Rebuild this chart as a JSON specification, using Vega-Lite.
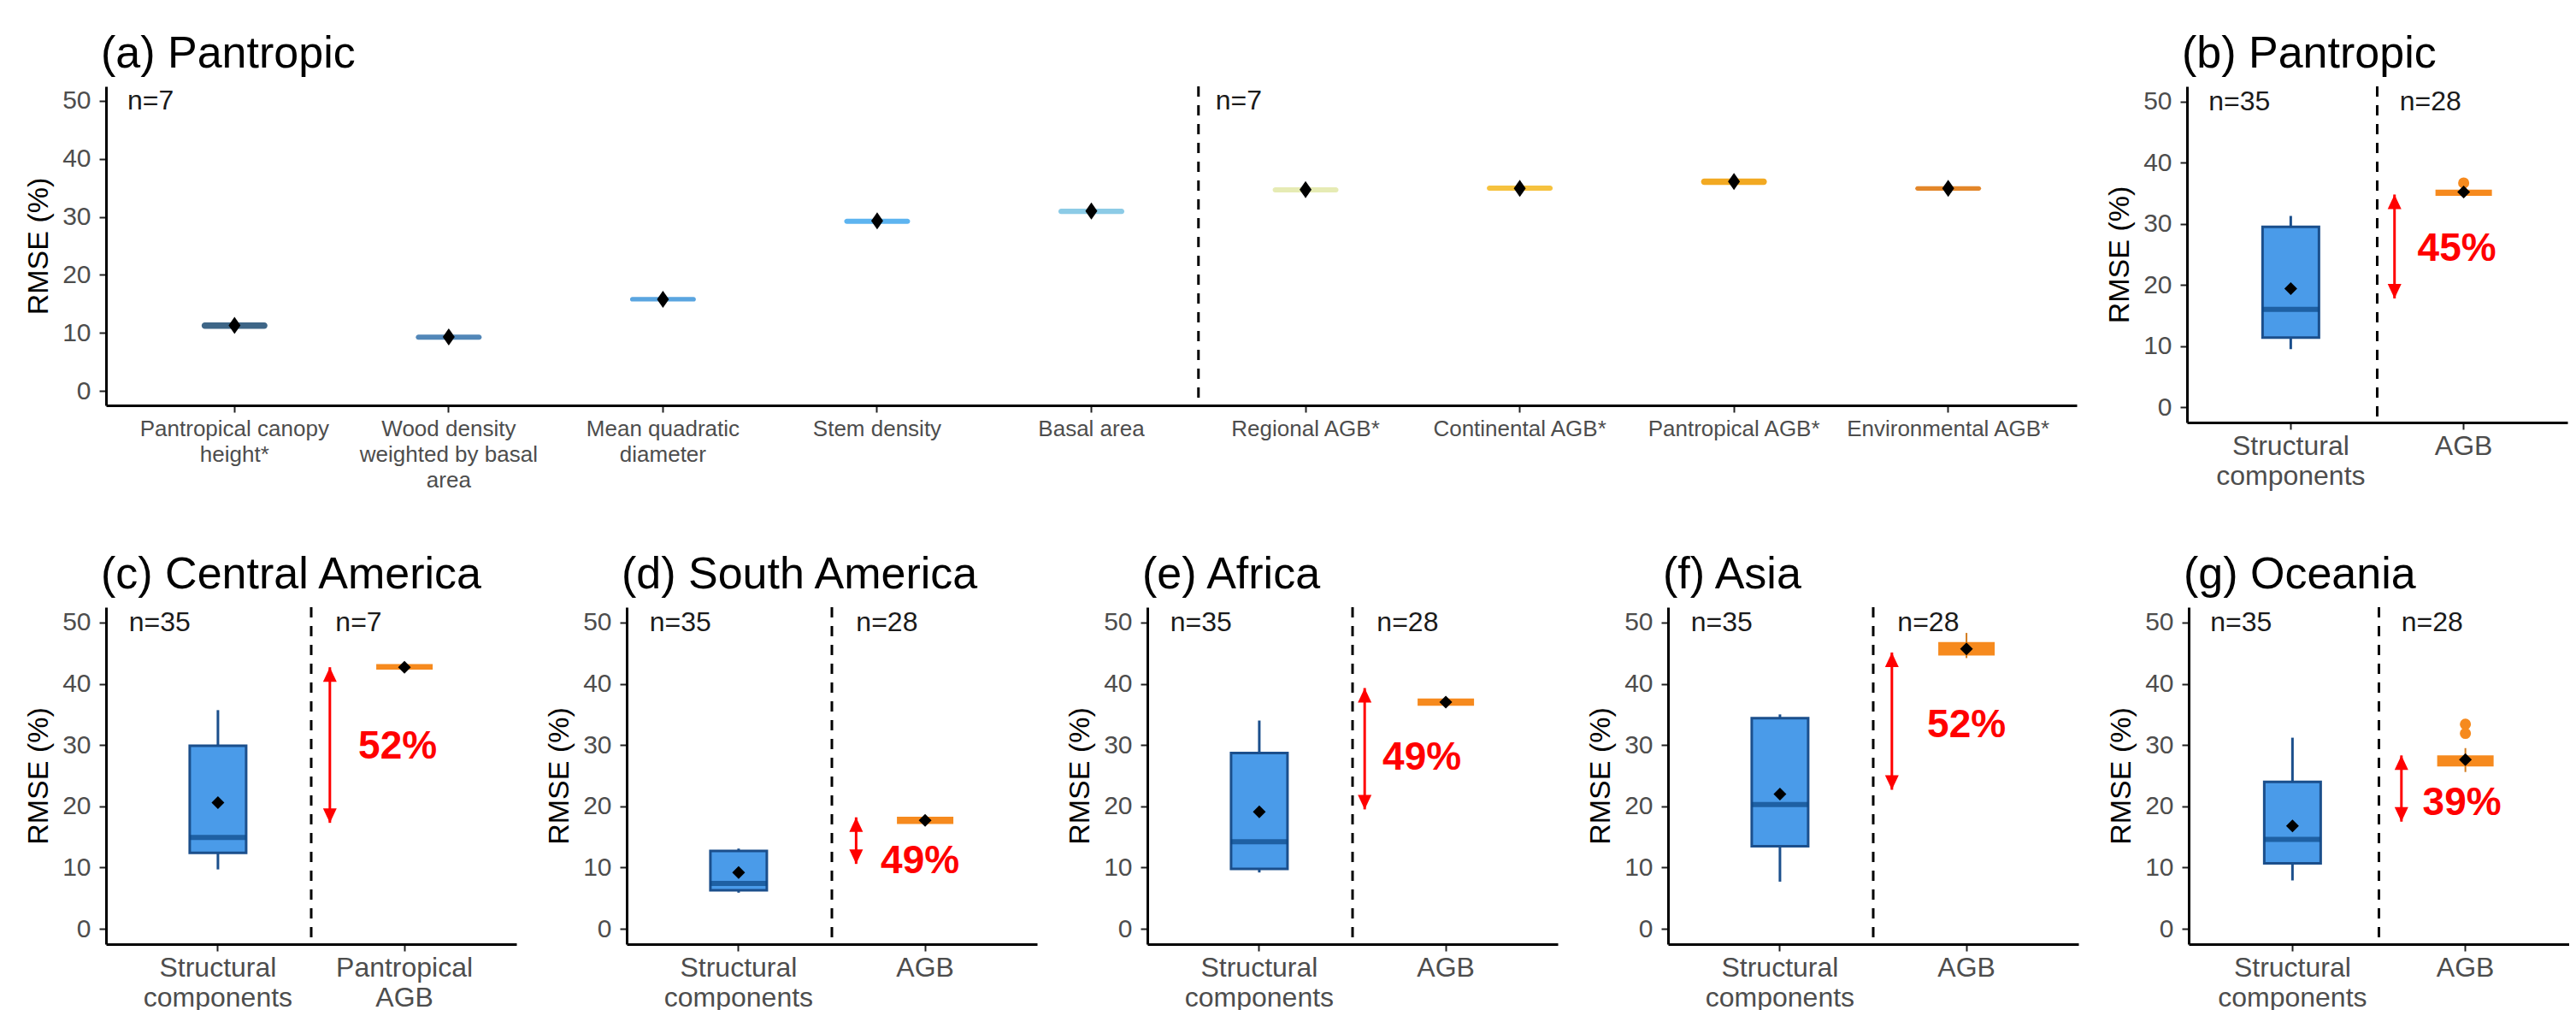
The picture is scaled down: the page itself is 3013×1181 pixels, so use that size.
{
"$schema": "https://vega.github.io/schema/vega-lite/v6.json",
"background": "white",
"padding": {"left": 28, "top": 36, "right": 0, "bottom": 0},
"spacing": 71,
"config": {
  "view": {"stroke": null},
  "axis": {"grid": false, "domainColor": "#000000", "domainWidth": 3, "tickColor": "#222222", "tickWidth": 2, "tickSize": 8, "labelFont": "Liberation Sans", "labelColor": "#4d4d4d", "labelFontSize": 30, "titleFont": "Liberation Sans", "titleFontSize": 34, "titleFontWeight": "normal", "titleColor": "#000000"},
  "axisY": {"labelPadding": 10, "titlePadding": 10},
  "axisX": {"labelAngle": 0, "labelLimit": 0, "labelPadding": 4, "labelFontSize": 32, "labelLineHeight": 35, "labelOverlap": false},
  "title": {"font": "Liberation Sans", "fontSize": 52, "fontWeight": "normal", "anchor": "start", "frame": "group", "baseline": "alphabetic", "offset": 10, "dx": -6, "color": "#000000"},
  "text": {"font": "Liberation Sans"}
},
"datasets": {
  "boxes": [
    {"panel":"a","cat":"Pantropical canopy\nheight*","group":"structural","lower":10.7,"q1":10.7,"median":11.3,"q3":11.8,"upper":11.8,"mean":11.3},
    {"panel":"a","cat":"Wood density\nweighted by basal\narea","group":"structural","lower":8.8,"q1":8.8,"median":9.3,"q3":9.7,"upper":9.7,"mean":9.3},
    {"panel":"a","cat":"Mean quadratic\ndiameter","group":"structural","lower":15.4,"q1":15.4,"median":15.8,"q3":16.2,"upper":16.2,"mean":15.8},
    {"panel":"a","cat":"Stem density","group":"structural","lower":28.8,"q1":28.8,"median":29.3,"q3":29.7,"upper":29.7,"mean":29.3},
    {"panel":"a","cat":"Basal area","group":"structural","lower":30.5,"q1":30.5,"median":31.0,"q3":31.4,"upper":31.4,"mean":31.0},
    {"panel":"a","cat":"Regional AGB*","group":"agb","lower":34.2,"q1":34.2,"median":34.7,"q3":35.1,"upper":35.1,"mean":34.7},
    {"panel":"a","cat":"Continental AGB*","group":"agb","lower":34.5,"q1":34.5,"median":34.9,"q3":35.4,"upper":35.4,"mean":34.9},
    {"panel":"a","cat":"Pantropical AGB*","group":"agb","lower":35.5,"q1":35.5,"median":36.1,"q3":36.6,"upper":36.6,"mean":36.1},
    {"panel":"a","cat":"Environmental AGB*","group":"agb","lower":34.5,"q1":34.5,"median":34.9,"q3":35.3,"upper":35.3,"mean":34.9},
    {"panel":"b","cat":"Structural\ncomponents","group":"structural","lower":9.5,"q1":11.4,"median":16.0,"q3":29.5,"upper":31.3,"mean":19.4},
    {"panel":"b","cat":"AGB","group":"agb","lower":34.5,"q1":34.6,"median":35.1,"q3":35.6,"upper":35.7,"mean":35.2},
    {"panel":"c","cat":"Structural\ncomponents","group":"structural","lower":9.7,"q1":12.4,"median":14.9,"q3":29.9,"upper":35.7,"mean":20.6},
    {"panel":"c","cat":"Pantropical\nAGB","group":"agb","lower":42.2,"q1":42.3,"median":42.7,"q3":43.2,"upper":43.3,"mean":42.7},
    {"panel":"d","cat":"Structural\ncomponents","group":"structural","lower":5.9,"q1":6.3,"median":7.4,"q3":12.7,"upper":13.1,"mean":9.2},
    {"panel":"d","cat":"AGB","group":"agb","lower":17.1,"q1":17.1,"median":17.7,"q3":18.3,"upper":18.3,"mean":17.7},
    {"panel":"e","cat":"Structural\ncomponents","group":"structural","lower":9.2,"q1":9.8,"median":14.2,"q3":28.7,"upper":34.0,"mean":19.1},
    {"panel":"e","cat":"AGB","group":"agb","lower":36.4,"q1":36.4,"median":37.0,"q3":37.6,"upper":37.7,"mean":37.0},
    {"panel":"f","cat":"Structural\ncomponents","group":"structural","lower":7.7,"q1":13.5,"median":20.3,"q3":34.4,"upper":35.0,"mean":22.0},
    {"panel":"f","cat":"AGB","group":"agb","lower":44.2,"q1":44.6,"median":45.6,"q3":46.8,"upper":48.3,"mean":45.7},
    {"panel":"g","cat":"Structural\ncomponents","group":"structural","lower":7.9,"q1":10.7,"median":14.6,"q3":24.0,"upper":31.2,"mean":16.8},
    {"panel":"g","cat":"AGB","group":"agb","lower":25.6,"q1":26.5,"median":27.6,"q3":28.3,"upper":29.5,"mean":27.6}
  ],
  "outliers": [
    {"panel":"b","cat":"AGB","value":36.7},
    {"panel":"g","cat":"AGB","value":33.4},
    {"panel":"g","cat":"AGB","value":31.9}
  ],
  "counts": [
    {"panel":"a","cat":"Pantropical canopy\nheight*","group":"structural","label":"n=7"},
    {"panel":"a","cat":"Regional AGB*","group":"agb","label":"n=7"},
    {"panel":"b","cat":"Structural\ncomponents","group":"structural","label":"n=35"},
    {"panel":"b","cat":"AGB","group":"agb","label":"n=28"},
    {"panel":"c","cat":"Structural\ncomponents","group":"structural","label":"n=35"},
    {"panel":"c","cat":"Pantropical\nAGB","group":"agb","label":"n=7"},
    {"panel":"d","cat":"Structural\ncomponents","group":"structural","label":"n=35"},
    {"panel":"d","cat":"AGB","group":"agb","label":"n=28"},
    {"panel":"e","cat":"Structural\ncomponents","group":"structural","label":"n=35"},
    {"panel":"e","cat":"AGB","group":"agb","label":"n=28"},
    {"panel":"f","cat":"Structural\ncomponents","group":"structural","label":"n=35"},
    {"panel":"f","cat":"AGB","group":"agb","label":"n=28"},
    {"panel":"g","cat":"Structural\ncomponents","group":"structural","label":"n=35"},
    {"panel":"g","cat":"AGB","group":"agb","label":"n=28"}
  ],
  "arrows": [
    {"panel":"b","cat":"AGB","from":17.8,"to":34.8},
    {"panel":"c","cat":"Pantropical\nAGB","from":17.3,"to":42.7},
    {"panel":"d","cat":"AGB","from":10.6,"to":18.2},
    {"panel":"e","cat":"AGB","from":19.5,"to":39.3},
    {"panel":"f","cat":"AGB","from":22.7,"to":45.1},
    {"panel":"g","cat":"AGB","from":17.5,"to":28.3}
  ],
  "labels": [
    {"panel":"b","cat":"AGB","y":25.9,"text":"45%"},
    {"panel":"c","cat":"Pantropical\nAGB","y":29.7,"text":"52%"},
    {"panel":"d","cat":"AGB","y":11.0,"text":"49%"},
    {"panel":"e","cat":"AGB","y":27.9,"text":"49%"},
    {"panel":"f","cat":"AGB","y":33.3,"text":"52%"},
    {"panel":"g","cat":"AGB","y":20.6,"text":"39%"}
  ]
},
"vconcat": [
  {"hconcat": [
    {"title": "(a) Pantropic", "width": 2305, "height": 373,
     "layer": [
      {"data":{"name":"boxes"},"transform":[{"filter":"datum.panel=='a' && datum.cat=='Basal area'"}],"mark":{"type":"rule","strokeDash":[12,10],"strokeWidth":3,"color":"#000000"},
       "encoding":{"x":{"field":"cat","type":"nominal","bandPosition":1,"scale":{"domain":["Pantropical canopy\nheight*","Wood density\nweighted by basal\narea","Mean quadratic\ndiameter","Stem density","Basal area","Regional AGB*","Continental AGB*","Pantropical AGB*","Environmental AGB*"],"paddingInner":0,"paddingOuter":0.1},"axis":{"title":null,"labelExpr":"split(datum.label, '\\n')","labelFontSize":26,"labelLineHeight":30,"labelPadding":6}}}},
      {"data":{"name":"boxes"},"transform":[{"filter":"datum.panel=='a'"}],"mark":{"type":"bar","width":77,"cornerRadius":4},
       "encoding":{"x":{"field":"cat","type":"nominal"},"y":{"field":"q1","type":"quantitative","scale":{"domain":[-2.5,52.5],"nice":false,"zero":false},"axis":{"title":"RMSE (%)","values":[0,10,20,30,40,50]}},"y2":{"field":"q3"},
        "color":{"field":"cat","type":"nominal","legend":null,"scale":{"domain":["Pantropical canopy\nheight*","Wood density\nweighted by basal\narea","Mean quadratic\ndiameter","Stem density","Basal area","Regional AGB*","Continental AGB*","Pantropical AGB*","Environmental AGB*"],"range":["#3e6687","#5287b8","#5aa5e0","#5db4f0","#8ccbe6","#e6ebb4","#f6c23e","#f2a922","#e3862a"]}}}},
      {"data":{"name":"boxes"},"transform":[{"filter":"datum.panel=='a'"}],"mark":{"type":"point","shape":"M0,-1L0.7,0L0,1L-0.7,0Z","filled":true,"size":400,"color":"#000000","opacity":1},
       "encoding":{"x":{"field":"cat","type":"nominal"},"y":{"field":"mean","type":"quantitative"}}},
      {"data":{"name":"counts"},"transform":[{"filter":"datum.panel=='a' && datum.group=='structural'"}],"mark":{"type":"text","align":"left","baseline":"middle","fontSize":32,"color":"#1a1a1a","dx":0},
       "encoding":{"x":{"field":"cat","type":"nominal","bandPosition":0},"y":{"datum":50,"type":"quantitative"},"text":{"field":"label"}}},
      {"data":{"name":"counts"},"transform":[{"filter":"datum.panel=='a' && datum.group=='agb'"}],"mark":{"type":"text","align":"left","baseline":"middle","fontSize":32,"color":"#1a1a1a","dx":0},
       "encoding":{"x":{"field":"cat","type":"nominal","bandPosition":0.08},"y":{"datum":50,"type":"quantitative"},"text":{"field":"label"}}}
     ]},
    {"title": "(b) Pantropic", "width": 445, "height": 393,
     "layer": [
      {"data":{"name":"boxes"},"transform":[{"filter":"datum.panel=='b' && datum.group=='structural'"}],"mark":{"type":"rule","strokeDash":[12,10],"strokeWidth":3,"color":"#000000"},"encoding":{"x":{"field":"cat","type":"nominal","bandPosition":1,"scale":{"domain":["Structural\ncomponents","AGB"],"paddingInner":0,"paddingOuter":0.1},"axis":{"title":null,"labelExpr":"split(datum.label, '\\n')"}}}},
      {"data":{"name":"boxes"},"transform":[{"filter":"datum.panel=='b' && datum.group=='structural'"}],"mark":{"type":"rule","color":"#1b4f8c","strokeWidth":3},"encoding":{"x":{"field":"cat","type":"nominal"},"y":{"field":"lower","type":"quantitative","scale":{"domain":[-2.5,52.5],"nice":false,"zero":false},"axis":{"title":"RMSE (%)","values":[0,10,20,30,40,50]}},"y2":{"field":"upper"}}},
      {"data":{"name":"boxes"},"transform":[{"filter":"datum.panel=='b' && datum.group=='structural'"}],"mark":{"type":"bar","width":66,"fill":"#4a9be9","stroke":"#1b4f8c","strokeWidth":3},"encoding":{"x":{"field":"cat","type":"nominal"},"y":{"field":"q1","type":"quantitative"},"y2":{"field":"q3"}}},
      {"data":{"name":"boxes"},"transform":[{"filter":"datum.panel=='b' && datum.group=='structural'"}],"mark":{"type":"tick","size":66,"thickness":6,"color":"#0c4785"},"encoding":{"x":{"field":"cat","type":"nominal"},"y":{"field":"median","type":"quantitative"}}},
      {"data":{"name":"boxes"},"transform":[{"filter":"datum.panel=='b' && datum.group=='agb'"}],"mark":{"type":"rule","color":"#d27a1c","strokeWidth":2},"encoding":{"x":{"field":"cat","type":"nominal"},"y":{"field":"lower","type":"quantitative"},"y2":{"field":"upper"}}},
      {"data":{"name":"boxes"},"transform":[{"filter":"datum.panel=='b' && datum.group=='agb'"}],"mark":{"type":"bar","width":66,"fill":"#f68a1e"},"encoding":{"x":{"field":"cat","type":"nominal"},"y":{"field":"q1","type":"quantitative"},"y2":{"field":"q3"}}},
      {"data":{"name":"outliers"},"transform":[{"filter":"datum.panel=='b'"}],"mark":{"type":"circle","size":170,"color":"#f68a1e","opacity":1},"encoding":{"x":{"field":"cat","type":"nominal"},"y":{"field":"value","type":"quantitative"}}},
      {"data":{"name":"boxes"},"transform":[{"filter":"datum.panel=='b'"}],"mark":{"type":"point","shape":"diamond","filled":true,"size":225,"color":"#000000","opacity":1},"encoding":{"x":{"field":"cat","type":"nominal"},"y":{"field":"mean","type":"quantitative"}}},
      {"data":{"name":"arrows"},"transform":[{"filter":"datum.panel=='b'"}],"mark":{"type":"rule","color":"#ff0000","strokeWidth":3},"encoding":{"x":{"field":"cat","type":"nominal","bandPosition":0.1},"y":{"field":"from","type":"quantitative"},"y2":{"field":"to"}}},
      {"data":{"name":"arrows"},"transform":[{"filter":"datum.panel=='b'"}],"mark":{"type":"point","shape":"M0,0L-0.8,1.7L0.8,1.7Z","filled":true,"size":400,"color":"#ff0000","opacity":1},"encoding":{"x":{"field":"cat","type":"nominal","bandPosition":0.1},"y":{"field":"to","type":"quantitative"}}},
      {"data":{"name":"arrows"},"transform":[{"filter":"datum.panel=='b'"}],"mark":{"type":"point","shape":"M0,0L-0.8,-1.7L0.8,-1.7Z","filled":true,"size":400,"color":"#ff0000","opacity":1},"encoding":{"x":{"field":"cat","type":"nominal","bandPosition":0.1},"y":{"field":"from","type":"quantitative"}}},
      {"data":{"name":"counts"},"transform":[{"filter":"datum.panel=='b' && datum.group=='structural'"}],"mark":{"type":"text","align":"left","baseline":"middle","fontSize":32,"color":"#1a1a1a","dx":5},"encoding":{"x":{"field":"cat","type":"nominal","bandPosition":0},"y":{"datum":50,"type":"quantitative"},"text":{"field":"label"}}},
      {"data":{"name":"counts"},"transform":[{"filter":"datum.panel=='b' && datum.group=='agb'"}],"mark":{"type":"text","align":"left","baseline":"middle","fontSize":32,"color":"#1a1a1a"},"encoding":{"x":{"field":"cat","type":"nominal","bandPosition":0.13},"y":{"datum":50,"type":"quantitative"},"text":{"field":"label"}}},
      {"data":{"name":"labels"},"transform":[{"filter":"datum.panel=='b'"}],"mark":{"type":"text","align":"center","baseline":"middle","fontSize":46,"fontWeight":"bold","color":"#ff0000","dx":-8},"encoding":{"x":{"field":"cat","type":"nominal"},"y":{"field":"y","type":"quantitative"},"text":{"field":"text"}}}
     ]}
  ], "spacing": 129, "bounds": "flush"},
  {"hconcat": [
    {"title": "(c) Central America", "width": 480, "height": 394,
     "layer": [
      {"data":{"name":"boxes"},"transform":[{"filter":"datum.panel=='c' && datum.group=='structural'"}],"mark":{"type":"rule","strokeDash":[12,10],"strokeWidth":3,"color":"#000000"},"encoding":{"x":{"field":"cat","type":"nominal","bandPosition":1,"scale":{"domain":["Structural\ncomponents","Pantropical\nAGB"],"paddingInner":0,"paddingOuter":0.1},"axis":{"title":null,"labelExpr":"split(datum.label, '\\n')"}}}},
      {"data":{"name":"boxes"},"transform":[{"filter":"datum.panel=='c' && datum.group=='structural'"}],"mark":{"type":"rule","color":"#1b4f8c","strokeWidth":3},"encoding":{"x":{"field":"cat","type":"nominal"},"y":{"field":"lower","type":"quantitative","scale":{"domain":[-2.5,52.5],"nice":false,"zero":false},"axis":{"title":"RMSE (%)","values":[0,10,20,30,40,50]}},"y2":{"field":"upper"}}},
      {"data":{"name":"boxes"},"transform":[{"filter":"datum.panel=='c' && datum.group=='structural'"}],"mark":{"type":"bar","width":66,"fill":"#4a9be9","stroke":"#1b4f8c","strokeWidth":3},"encoding":{"x":{"field":"cat","type":"nominal"},"y":{"field":"q1","type":"quantitative"},"y2":{"field":"q3"}}},
      {"data":{"name":"boxes"},"transform":[{"filter":"datum.panel=='c' && datum.group=='structural'"}],"mark":{"type":"tick","size":66,"thickness":6,"color":"#0c4785"},"encoding":{"x":{"field":"cat","type":"nominal"},"y":{"field":"median","type":"quantitative"}}},
      {"data":{"name":"boxes"},"transform":[{"filter":"datum.panel=='c' && datum.group=='agb'"}],"mark":{"type":"rule","color":"#d27a1c","strokeWidth":2},"encoding":{"x":{"field":"cat","type":"nominal"},"y":{"field":"lower","type":"quantitative"},"y2":{"field":"upper"}}},
      {"data":{"name":"boxes"},"transform":[{"filter":"datum.panel=='c' && datum.group=='agb'"}],"mark":{"type":"bar","width":66,"fill":"#f68a1e"},"encoding":{"x":{"field":"cat","type":"nominal"},"y":{"field":"q1","type":"quantitative"},"y2":{"field":"q3"}}},
      {"data":{"name":"boxes"},"transform":[{"filter":"datum.panel=='c'"}],"mark":{"type":"point","shape":"diamond","filled":true,"size":225,"color":"#000000","opacity":1},"encoding":{"x":{"field":"cat","type":"nominal"},"y":{"field":"mean","type":"quantitative"}}},
      {"data":{"name":"arrows"},"transform":[{"filter":"datum.panel=='c'"}],"mark":{"type":"rule","color":"#ff0000","strokeWidth":3},"encoding":{"x":{"field":"cat","type":"nominal","bandPosition":0.1},"y":{"field":"from","type":"quantitative"},"y2":{"field":"to"}}},
      {"data":{"name":"arrows"},"transform":[{"filter":"datum.panel=='c'"}],"mark":{"type":"point","shape":"M0,0L-0.8,1.7L0.8,1.7Z","filled":true,"size":400,"color":"#ff0000","opacity":1},"encoding":{"x":{"field":"cat","type":"nominal","bandPosition":0.1},"y":{"field":"to","type":"quantitative"}}},
      {"data":{"name":"arrows"},"transform":[{"filter":"datum.panel=='c'"}],"mark":{"type":"point","shape":"M0,0L-0.8,-1.7L0.8,-1.7Z","filled":true,"size":400,"color":"#ff0000","opacity":1},"encoding":{"x":{"field":"cat","type":"nominal","bandPosition":0.1},"y":{"field":"from","type":"quantitative"}}},
      {"data":{"name":"counts"},"transform":[{"filter":"datum.panel=='c' && datum.group=='structural'"}],"mark":{"type":"text","align":"left","baseline":"middle","fontSize":32,"color":"#1a1a1a","dx":5},"encoding":{"x":{"field":"cat","type":"nominal","bandPosition":0},"y":{"datum":50,"type":"quantitative"},"text":{"field":"label"}}},
      {"data":{"name":"counts"},"transform":[{"filter":"datum.panel=='c' && datum.group=='agb'"}],"mark":{"type":"text","align":"left","baseline":"middle","fontSize":32,"color":"#1a1a1a"},"encoding":{"x":{"field":"cat","type":"nominal","bandPosition":0.13},"y":{"datum":50,"type":"quantitative"},"text":{"field":"label"}}},
      {"data":{"name":"labels"},"transform":[{"filter":"datum.panel=='c'"}],"mark":{"type":"text","align":"center","baseline":"middle","fontSize":46,"fontWeight":"bold","color":"#ff0000","dx":-8},"encoding":{"x":{"field":"cat","type":"nominal"},"y":{"field":"y","type":"quantitative"},"text":{"field":"text"}}}
     ]},
    {"title": "(d) South America", "width": 480, "height": 394,
     "layer": [
      {"data":{"name":"boxes"},"transform":[{"filter":"datum.panel=='d' && datum.group=='structural'"}],"mark":{"type":"rule","strokeDash":[12,10],"strokeWidth":3,"color":"#000000"},"encoding":{"x":{"field":"cat","type":"nominal","bandPosition":1,"scale":{"domain":["Structural\ncomponents","AGB"],"paddingInner":0,"paddingOuter":0.1},"axis":{"title":null,"labelExpr":"split(datum.label, '\\n')"}}}},
      {"data":{"name":"boxes"},"transform":[{"filter":"datum.panel=='d' && datum.group=='structural'"}],"mark":{"type":"rule","color":"#1b4f8c","strokeWidth":3},"encoding":{"x":{"field":"cat","type":"nominal"},"y":{"field":"lower","type":"quantitative","scale":{"domain":[-2.5,52.5],"nice":false,"zero":false},"axis":{"title":"RMSE (%)","values":[0,10,20,30,40,50]}},"y2":{"field":"upper"}}},
      {"data":{"name":"boxes"},"transform":[{"filter":"datum.panel=='d' && datum.group=='structural'"}],"mark":{"type":"bar","width":66,"fill":"#4a9be9","stroke":"#1b4f8c","strokeWidth":3},"encoding":{"x":{"field":"cat","type":"nominal"},"y":{"field":"q1","type":"quantitative"},"y2":{"field":"q3"}}},
      {"data":{"name":"boxes"},"transform":[{"filter":"datum.panel=='d' && datum.group=='structural'"}],"mark":{"type":"tick","size":66,"thickness":6,"color":"#0c4785"},"encoding":{"x":{"field":"cat","type":"nominal"},"y":{"field":"median","type":"quantitative"}}},
      {"data":{"name":"boxes"},"transform":[{"filter":"datum.panel=='d' && datum.group=='agb'"}],"mark":{"type":"rule","color":"#d27a1c","strokeWidth":2},"encoding":{"x":{"field":"cat","type":"nominal"},"y":{"field":"lower","type":"quantitative"},"y2":{"field":"upper"}}},
      {"data":{"name":"boxes"},"transform":[{"filter":"datum.panel=='d' && datum.group=='agb'"}],"mark":{"type":"bar","width":66,"fill":"#f68a1e"},"encoding":{"x":{"field":"cat","type":"nominal"},"y":{"field":"q1","type":"quantitative"},"y2":{"field":"q3"}}},
      {"data":{"name":"boxes"},"transform":[{"filter":"datum.panel=='d'"}],"mark":{"type":"point","shape":"diamond","filled":true,"size":225,"color":"#000000","opacity":1},"encoding":{"x":{"field":"cat","type":"nominal"},"y":{"field":"mean","type":"quantitative"}}},
      {"data":{"name":"arrows"},"transform":[{"filter":"datum.panel=='d'"}],"mark":{"type":"rule","color":"#ff0000","strokeWidth":3},"encoding":{"x":{"field":"cat","type":"nominal","bandPosition":0.13},"y":{"field":"from","type":"quantitative"},"y2":{"field":"to"}}},
      {"data":{"name":"arrows"},"transform":[{"filter":"datum.panel=='d'"}],"mark":{"type":"point","shape":"M0,0L-0.8,1.7L0.8,1.7Z","filled":true,"size":400,"color":"#ff0000","opacity":1},"encoding":{"x":{"field":"cat","type":"nominal","bandPosition":0.13},"y":{"field":"to","type":"quantitative"}}},
      {"data":{"name":"arrows"},"transform":[{"filter":"datum.panel=='d'"}],"mark":{"type":"point","shape":"M0,0L-0.8,-1.7L0.8,-1.7Z","filled":true,"size":400,"color":"#ff0000","opacity":1},"encoding":{"x":{"field":"cat","type":"nominal","bandPosition":0.13},"y":{"field":"from","type":"quantitative"}}},
      {"data":{"name":"counts"},"transform":[{"filter":"datum.panel=='d' && datum.group=='structural'"}],"mark":{"type":"text","align":"left","baseline":"middle","fontSize":32,"color":"#1a1a1a","dx":5},"encoding":{"x":{"field":"cat","type":"nominal","bandPosition":0},"y":{"datum":50,"type":"quantitative"},"text":{"field":"label"}}},
      {"data":{"name":"counts"},"transform":[{"filter":"datum.panel=='d' && datum.group=='agb'"}],"mark":{"type":"text","align":"left","baseline":"middle","fontSize":32,"color":"#1a1a1a"},"encoding":{"x":{"field":"cat","type":"nominal","bandPosition":0.13},"y":{"datum":50,"type":"quantitative"},"text":{"field":"label"}}},
      {"data":{"name":"labels"},"transform":[{"filter":"datum.panel=='d'"}],"mark":{"type":"text","align":"center","baseline":"middle","fontSize":46,"fontWeight":"bold","color":"#ff0000","dx":-6},"encoding":{"x":{"field":"cat","type":"nominal"},"y":{"field":"y","type":"quantitative"},"text":{"field":"text"}}}
     ]},
    {"title": "(e) Africa", "width": 480, "height": 394,
     "layer": [
      {"data":{"name":"boxes"},"transform":[{"filter":"datum.panel=='e' && datum.group=='structural'"}],"mark":{"type":"rule","strokeDash":[12,10],"strokeWidth":3,"color":"#000000"},"encoding":{"x":{"field":"cat","type":"nominal","bandPosition":1,"scale":{"domain":["Structural\ncomponents","AGB"],"paddingInner":0,"paddingOuter":0.1},"axis":{"title":null,"labelExpr":"split(datum.label, '\\n')"}}}},
      {"data":{"name":"boxes"},"transform":[{"filter":"datum.panel=='e' && datum.group=='structural'"}],"mark":{"type":"rule","color":"#1b4f8c","strokeWidth":3},"encoding":{"x":{"field":"cat","type":"nominal"},"y":{"field":"lower","type":"quantitative","scale":{"domain":[-2.5,52.5],"nice":false,"zero":false},"axis":{"title":"RMSE (%)","values":[0,10,20,30,40,50]}},"y2":{"field":"upper"}}},
      {"data":{"name":"boxes"},"transform":[{"filter":"datum.panel=='e' && datum.group=='structural'"}],"mark":{"type":"bar","width":66,"fill":"#4a9be9","stroke":"#1b4f8c","strokeWidth":3},"encoding":{"x":{"field":"cat","type":"nominal"},"y":{"field":"q1","type":"quantitative"},"y2":{"field":"q3"}}},
      {"data":{"name":"boxes"},"transform":[{"filter":"datum.panel=='e' && datum.group=='structural'"}],"mark":{"type":"tick","size":66,"thickness":6,"color":"#0c4785"},"encoding":{"x":{"field":"cat","type":"nominal"},"y":{"field":"median","type":"quantitative"}}},
      {"data":{"name":"boxes"},"transform":[{"filter":"datum.panel=='e' && datum.group=='agb'"}],"mark":{"type":"rule","color":"#d27a1c","strokeWidth":2},"encoding":{"x":{"field":"cat","type":"nominal"},"y":{"field":"lower","type":"quantitative"},"y2":{"field":"upper"}}},
      {"data":{"name":"boxes"},"transform":[{"filter":"datum.panel=='e' && datum.group=='agb'"}],"mark":{"type":"bar","width":66,"fill":"#f68a1e"},"encoding":{"x":{"field":"cat","type":"nominal"},"y":{"field":"q1","type":"quantitative"},"y2":{"field":"q3"}}},
      {"data":{"name":"boxes"},"transform":[{"filter":"datum.panel=='e'"}],"mark":{"type":"point","shape":"diamond","filled":true,"size":225,"color":"#000000","opacity":1},"encoding":{"x":{"field":"cat","type":"nominal"},"y":{"field":"mean","type":"quantitative"}}},
      {"data":{"name":"arrows"},"transform":[{"filter":"datum.panel=='e'"}],"mark":{"type":"rule","color":"#ff0000","strokeWidth":3},"encoding":{"x":{"field":"cat","type":"nominal","bandPosition":0.065},"y":{"field":"from","type":"quantitative"},"y2":{"field":"to"}}},
      {"data":{"name":"arrows"},"transform":[{"filter":"datum.panel=='e'"}],"mark":{"type":"point","shape":"M0,0L-0.8,1.7L0.8,1.7Z","filled":true,"size":400,"color":"#ff0000","opacity":1},"encoding":{"x":{"field":"cat","type":"nominal","bandPosition":0.065},"y":{"field":"to","type":"quantitative"}}},
      {"data":{"name":"arrows"},"transform":[{"filter":"datum.panel=='e'"}],"mark":{"type":"point","shape":"M0,0L-0.8,-1.7L0.8,-1.7Z","filled":true,"size":400,"color":"#ff0000","opacity":1},"encoding":{"x":{"field":"cat","type":"nominal","bandPosition":0.065},"y":{"field":"from","type":"quantitative"}}},
      {"data":{"name":"counts"},"transform":[{"filter":"datum.panel=='e' && datum.group=='structural'"}],"mark":{"type":"text","align":"left","baseline":"middle","fontSize":32,"color":"#1a1a1a","dx":5},"encoding":{"x":{"field":"cat","type":"nominal","bandPosition":0},"y":{"datum":50,"type":"quantitative"},"text":{"field":"label"}}},
      {"data":{"name":"counts"},"transform":[{"filter":"datum.panel=='e' && datum.group=='agb'"}],"mark":{"type":"text","align":"left","baseline":"middle","fontSize":32,"color":"#1a1a1a"},"encoding":{"x":{"field":"cat","type":"nominal","bandPosition":0.13},"y":{"datum":50,"type":"quantitative"},"text":{"field":"label"}}},
      {"data":{"name":"labels"},"transform":[{"filter":"datum.panel=='e'"}],"mark":{"type":"text","align":"center","baseline":"middle","fontSize":46,"fontWeight":"bold","color":"#ff0000","dx":-28},"encoding":{"x":{"field":"cat","type":"nominal"},"y":{"field":"y","type":"quantitative"},"text":{"field":"text"}}}
     ]},
    {"title": "(f) Asia", "width": 480, "height": 394,
     "layer": [
      {"data":{"name":"boxes"},"transform":[{"filter":"datum.panel=='f' && datum.group=='structural'"}],"mark":{"type":"rule","strokeDash":[12,10],"strokeWidth":3,"color":"#000000"},"encoding":{"x":{"field":"cat","type":"nominal","bandPosition":1,"scale":{"domain":["Structural\ncomponents","AGB"],"paddingInner":0,"paddingOuter":0.1},"axis":{"title":null,"labelExpr":"split(datum.label, '\\n')"}}}},
      {"data":{"name":"boxes"},"transform":[{"filter":"datum.panel=='f' && datum.group=='structural'"}],"mark":{"type":"rule","color":"#1b4f8c","strokeWidth":3},"encoding":{"x":{"field":"cat","type":"nominal"},"y":{"field":"lower","type":"quantitative","scale":{"domain":[-2.5,52.5],"nice":false,"zero":false},"axis":{"title":"RMSE (%)","values":[0,10,20,30,40,50]}},"y2":{"field":"upper"}}},
      {"data":{"name":"boxes"},"transform":[{"filter":"datum.panel=='f' && datum.group=='structural'"}],"mark":{"type":"bar","width":66,"fill":"#4a9be9","stroke":"#1b4f8c","strokeWidth":3},"encoding":{"x":{"field":"cat","type":"nominal"},"y":{"field":"q1","type":"quantitative"},"y2":{"field":"q3"}}},
      {"data":{"name":"boxes"},"transform":[{"filter":"datum.panel=='f' && datum.group=='structural'"}],"mark":{"type":"tick","size":66,"thickness":6,"color":"#0c4785"},"encoding":{"x":{"field":"cat","type":"nominal"},"y":{"field":"median","type":"quantitative"}}},
      {"data":{"name":"boxes"},"transform":[{"filter":"datum.panel=='f' && datum.group=='agb'"}],"mark":{"type":"rule","color":"#d27a1c","strokeWidth":2},"encoding":{"x":{"field":"cat","type":"nominal"},"y":{"field":"lower","type":"quantitative"},"y2":{"field":"upper"}}},
      {"data":{"name":"boxes"},"transform":[{"filter":"datum.panel=='f' && datum.group=='agb'"}],"mark":{"type":"bar","width":66,"fill":"#f68a1e"},"encoding":{"x":{"field":"cat","type":"nominal"},"y":{"field":"q1","type":"quantitative"},"y2":{"field":"q3"}}},
      {"data":{"name":"boxes"},"transform":[{"filter":"datum.panel=='f'"}],"mark":{"type":"point","shape":"diamond","filled":true,"size":225,"color":"#000000","opacity":1},"encoding":{"x":{"field":"cat","type":"nominal"},"y":{"field":"mean","type":"quantitative"}}},
      {"data":{"name":"arrows"},"transform":[{"filter":"datum.panel=='f'"}],"mark":{"type":"rule","color":"#ff0000","strokeWidth":3},"encoding":{"x":{"field":"cat","type":"nominal","bandPosition":0.1},"y":{"field":"from","type":"quantitative"},"y2":{"field":"to"}}},
      {"data":{"name":"arrows"},"transform":[{"filter":"datum.panel=='f'"}],"mark":{"type":"point","shape":"M0,0L-0.8,1.7L0.8,1.7Z","filled":true,"size":400,"color":"#ff0000","opacity":1},"encoding":{"x":{"field":"cat","type":"nominal","bandPosition":0.1},"y":{"field":"to","type":"quantitative"}}},
      {"data":{"name":"arrows"},"transform":[{"filter":"datum.panel=='f'"}],"mark":{"type":"point","shape":"M0,0L-0.8,-1.7L0.8,-1.7Z","filled":true,"size":400,"color":"#ff0000","opacity":1},"encoding":{"x":{"field":"cat","type":"nominal","bandPosition":0.1},"y":{"field":"from","type":"quantitative"}}},
      {"data":{"name":"counts"},"transform":[{"filter":"datum.panel=='f' && datum.group=='structural'"}],"mark":{"type":"text","align":"left","baseline":"middle","fontSize":32,"color":"#1a1a1a","dx":5},"encoding":{"x":{"field":"cat","type":"nominal","bandPosition":0},"y":{"datum":50,"type":"quantitative"},"text":{"field":"label"}}},
      {"data":{"name":"counts"},"transform":[{"filter":"datum.panel=='f' && datum.group=='agb'"}],"mark":{"type":"text","align":"left","baseline":"middle","fontSize":32,"color":"#1a1a1a"},"encoding":{"x":{"field":"cat","type":"nominal","bandPosition":0.13},"y":{"datum":50,"type":"quantitative"},"text":{"field":"label"}}},
      {"data":{"name":"labels"},"transform":[{"filter":"datum.panel=='f'"}],"mark":{"type":"text","align":"center","baseline":"middle","fontSize":46,"fontWeight":"bold","color":"#ff0000"},"encoding":{"x":{"field":"cat","type":"nominal"},"y":{"field":"y","type":"quantitative"},"text":{"field":"text"}}}
     ]},
    {"title": "(g) Oceania", "width": 445, "height": 394,
     "layer": [
      {"data":{"name":"boxes"},"transform":[{"filter":"datum.panel=='g' && datum.group=='structural'"}],"mark":{"type":"rule","strokeDash":[12,10],"strokeWidth":3,"color":"#000000"},"encoding":{"x":{"field":"cat","type":"nominal","bandPosition":1,"scale":{"domain":["Structural\ncomponents","AGB"],"paddingInner":0,"paddingOuter":0.1},"axis":{"title":null,"labelExpr":"split(datum.label, '\\n')"}}}},
      {"data":{"name":"boxes"},"transform":[{"filter":"datum.panel=='g' && datum.group=='structural'"}],"mark":{"type":"rule","color":"#1b4f8c","strokeWidth":3},"encoding":{"x":{"field":"cat","type":"nominal"},"y":{"field":"lower","type":"quantitative","scale":{"domain":[-2.5,52.5],"nice":false,"zero":false},"axis":{"title":"RMSE (%)","values":[0,10,20,30,40,50]}},"y2":{"field":"upper"}}},
      {"data":{"name":"boxes"},"transform":[{"filter":"datum.panel=='g' && datum.group=='structural'"}],"mark":{"type":"bar","width":66,"fill":"#4a9be9","stroke":"#1b4f8c","strokeWidth":3},"encoding":{"x":{"field":"cat","type":"nominal"},"y":{"field":"q1","type":"quantitative"},"y2":{"field":"q3"}}},
      {"data":{"name":"boxes"},"transform":[{"filter":"datum.panel=='g' && datum.group=='structural'"}],"mark":{"type":"tick","size":66,"thickness":6,"color":"#0c4785"},"encoding":{"x":{"field":"cat","type":"nominal"},"y":{"field":"median","type":"quantitative"}}},
      {"data":{"name":"boxes"},"transform":[{"filter":"datum.panel=='g' && datum.group=='agb'"}],"mark":{"type":"rule","color":"#d27a1c","strokeWidth":2},"encoding":{"x":{"field":"cat","type":"nominal"},"y":{"field":"lower","type":"quantitative"},"y2":{"field":"upper"}}},
      {"data":{"name":"boxes"},"transform":[{"filter":"datum.panel=='g' && datum.group=='agb'"}],"mark":{"type":"bar","width":66,"fill":"#f68a1e"},"encoding":{"x":{"field":"cat","type":"nominal"},"y":{"field":"q1","type":"quantitative"},"y2":{"field":"q3"}}},
      {"data":{"name":"outliers"},"transform":[{"filter":"datum.panel=='g'"}],"mark":{"type":"circle","size":170,"color":"#f68a1e","opacity":1},"encoding":{"x":{"field":"cat","type":"nominal"},"y":{"field":"value","type":"quantitative"}}},
      {"data":{"name":"boxes"},"transform":[{"filter":"datum.panel=='g'"}],"mark":{"type":"point","shape":"diamond","filled":true,"size":225,"color":"#000000","opacity":1},"encoding":{"x":{"field":"cat","type":"nominal"},"y":{"field":"mean","type":"quantitative"}}},
      {"data":{"name":"arrows"},"transform":[{"filter":"datum.panel=='g'"}],"mark":{"type":"rule","color":"#ff0000","strokeWidth":3},"encoding":{"x":{"field":"cat","type":"nominal","bandPosition":0.13},"y":{"field":"from","type":"quantitative"},"y2":{"field":"to"}}},
      {"data":{"name":"arrows"},"transform":[{"filter":"datum.panel=='g'"}],"mark":{"type":"point","shape":"M0,0L-0.8,1.7L0.8,1.7Z","filled":true,"size":400,"color":"#ff0000","opacity":1},"encoding":{"x":{"field":"cat","type":"nominal","bandPosition":0.13},"y":{"field":"to","type":"quantitative"}}},
      {"data":{"name":"arrows"},"transform":[{"filter":"datum.panel=='g'"}],"mark":{"type":"point","shape":"M0,0L-0.8,-1.7L0.8,-1.7Z","filled":true,"size":400,"color":"#ff0000","opacity":1},"encoding":{"x":{"field":"cat","type":"nominal","bandPosition":0.13},"y":{"field":"from","type":"quantitative"}}},
      {"data":{"name":"counts"},"transform":[{"filter":"datum.panel=='g' && datum.group=='structural'"}],"mark":{"type":"text","align":"left","baseline":"middle","fontSize":32,"color":"#1a1a1a","dx":5},"encoding":{"x":{"field":"cat","type":"nominal","bandPosition":0},"y":{"datum":50,"type":"quantitative"},"text":{"field":"label"}}},
      {"data":{"name":"counts"},"transform":[{"filter":"datum.panel=='g' && datum.group=='agb'"}],"mark":{"type":"text","align":"left","baseline":"middle","fontSize":32,"color":"#1a1a1a"},"encoding":{"x":{"field":"cat","type":"nominal","bandPosition":0.13},"y":{"datum":50,"type":"quantitative"},"text":{"field":"label"}}},
      {"data":{"name":"labels"},"transform":[{"filter":"datum.panel=='g'"}],"mark":{"type":"text","align":"center","baseline":"middle","fontSize":46,"fontWeight":"bold","color":"#ff0000","dx":-4},"encoding":{"x":{"field":"cat","type":"nominal"},"y":{"field":"y","type":"quantitative"},"text":{"field":"text"}}}
     ]}
  ], "spacing": 129, "bounds": "flush"}
]
}
